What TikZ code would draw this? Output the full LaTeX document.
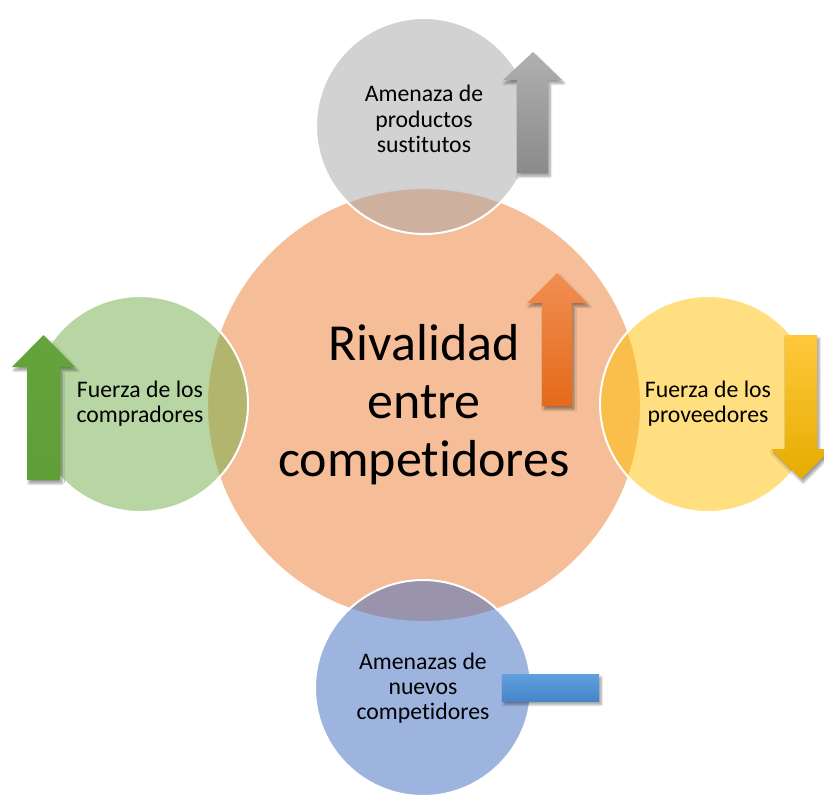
\documentclass[tikz,border=0pt]{standalone}
\usepackage{fontspec}
\setmainfont{Carlito}[Ligatures={NoCommon}]
\usetikzlibrary{shadows.blur}

\begin{document}
\begin{tikzpicture}[x=0.75pt,y=0.75pt,yscale=-1,xscale=1,
  ring/.style={circle, draw=white, line width=1.5, fill opacity=0.5, text opacity=1, inner sep=0pt, align=center},
  bigtxt/.style={font=\fontsize{39}{43.5}\selectfont},
  smalltxt/.style={font=\fontsize{17.8}{19}\selectfont},
  shade3d/.style={blur shadow={shadow xshift=1.5pt, shadow yshift=-2.5pt, shadow blur steps=6, shadow opacity=40}}]
%set diagram left start at 0, and has height of 796
\useasboundingbox (0,0) rectangle (824,796);
%Shape: Circle [rivalidad]
\node [ring, bigtxt, fill={rgb, 255:red, 237; green, 125; blue, 49 }, minimum size=325.5pt] (rival) at (424,405) {Rivalidad\\entre\\competidores};
%Shape: Circle [sustitutos]
\node [ring, fill={rgb, 255:red, 165; green, 165; blue, 165 }, minimum size=162pt] (sust) at (424,126) {};
%Shape: Circle [compradores]
\node [ring, smalltxt, fill={rgb, 255:red, 112; green, 173; blue, 71 }, minimum size=162pt] (comp) at (140,404) {Fuerza de los\\compradores};
%Shape: Circle [proveedores]
\node [ring, smalltxt, fill={rgb, 255:red, 255; green, 192; blue, 0 }, minimum size=162pt] (prov) at (708,404) {Fuerza de los\\proveedores};
%Shape: Circle [nuevos]
\node [ring, smalltxt, fill={rgb, 255:red, 60; green, 106; blue, 190 }, minimum size=162pt] (nuevo) at (423,688) {Amenazas de\\nuevos\\competidores};

% Text Node
\node [smalltxt, align=center, inner sep=0.75pt] (susttxt) at (424,119) {Amenaza de\\productos\\sustitutos};

%Shape: Up Arrow [gris]
\path [shade3d, top color={rgb, 255:red, 176; green, 176; blue, 176 }, middle color={rgb, 255:red, 168; green, 168; blue, 168 }, bottom color={rgb, 255:red, 138; green, 138; blue, 138 }] (517,173) -- (517,80) -- (503,80) -- (533,52) -- (562,80) -- (548,80) -- (548,173) -- cycle ;
%Shape: Up Arrow [naranja]
\path [shade3d, top color={rgb, 255:red, 240; green, 142; blue, 82 }, middle color={rgb, 255:red, 242; green, 128; blue, 44 }, bottom color={rgb, 255:red, 228; green, 106; blue, 26 }] (542,406) -- (542,303) -- (527,303) -- (557,273) -- (587,303) -- (572,303) -- (572,406) -- cycle ;
%Shape: Up Arrow [verde]
\path [shade3d, top color={rgb, 255:red, 100; green, 164; blue, 58 }, middle color={rgb, 255:red, 113; green, 177; blue, 72 }, bottom color={rgb, 255:red, 96; green, 158; blue, 56 }] (27,480) -- (27,367) -- (12,367) -- (43.5,335) -- (75,367) -- (60,367) -- (60,480) -- cycle ;
%Shape: Down Arrow [amarillo]
\path [shade3d, top color={rgb, 255:red, 255; green, 200; blue, 60 }, middle color={rgb, 255:red, 255; green, 192; blue, 0 }, bottom color={rgb, 255:red, 230; green, 172; blue, 0 }] (785,335) -- (817,335) -- (817,449) -- (831,449) -- (801,479) -- (771,449) -- (785,449) -- cycle ;
%Shape: Rectangle [azul]
\path [shade3d, top color={rgb, 255:red, 96; green, 160; blue, 222 }, bottom color={rgb, 255:red, 70; green, 134; blue, 200 }] (502,674) rectangle (599,701) ;
\end{tikzpicture}
\end{document}
